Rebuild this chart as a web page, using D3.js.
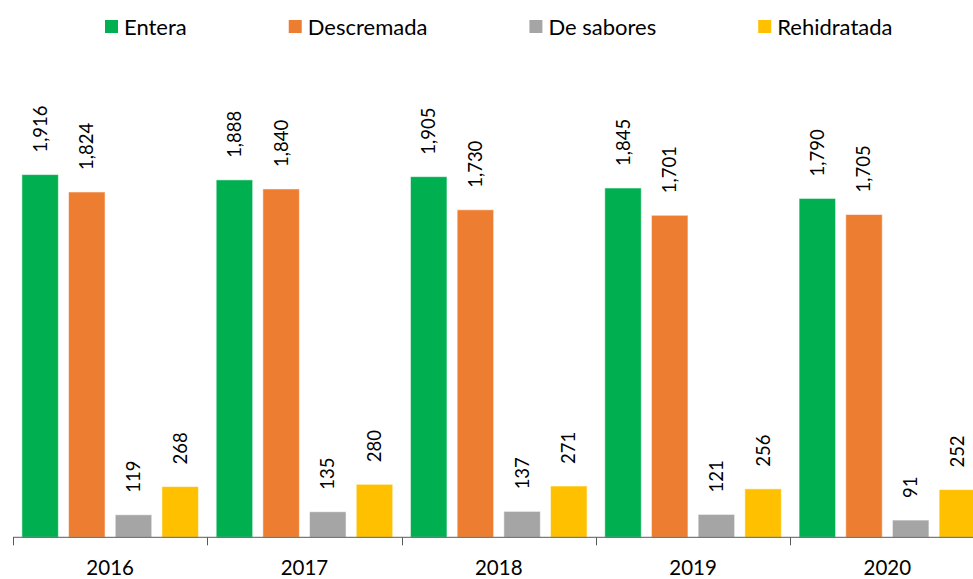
<!DOCTYPE html>
<meta charset="utf-8">
<style>
body { margin: 0; background: #fff; }
svg { display: block; font-family: Lato, "Open Sans", sans-serif; }
.value { font-size: 18.5px; fill: #000; }
.year { font-size: 20.5px; fill: #000; }
.legend text { font-size: 22px; fill: #000; }
</style>
<svg width="973" height="579"></svg>
<script src="https://d3js.org/d3.v7.min.js"></script>
<script>
var years = ["2016", "2017", "2018", "2019", "2020"];
var seriesNames = ["Entera", "Descremada", "De sabores", "Rehidratada"];
var entera = [1916, 1888, 1905, 1845, 1790];
var descremada = [1824, 1840, 1730, 1701, 1705];
var deSabores = [119, 135, 137, 121, 91];
var rehidratada = [268, 280, 271, 256, 252];
var colors = ["#00B050", "#ED7D31", "#A5A5A5", "#FFC000"];

var values = [entera, descremada, deSabores, rehidratada];

var svg = d3.select("svg"),
    margin = {top: 64, left: 13, bottom: 42},
    groupWidth = 194.3,
    baseY = 537.3;

var x0 = d3.scaleBand()
    .domain(years)
    .range([margin.left, margin.left + groupWidth * years.length])
    .padding(0);

var x1 = d3.scaleBand()
    .domain(seriesNames)
    .range([0, x0.bandwidth()])
    .paddingInner(0.218)
    .paddingOuter(0.19);

var y = d3.scaleLinear()
    .domain([0, 2500])
    .range([baseY, margin.top]);

var fmt = d3.format(",");
var color = d3.scaleOrdinal(seriesNames, colors);

// bars
var group = svg.selectAll(".year-group")
    .data(years)
  .enter().append("g")
    .attr("class", "year-group")
    .attr("transform", function(d) { return "translate(" + x0(d) + ",0)"; });

var cells = group.selectAll(".cell")
    .data(function(d, i) {
      return seriesNames.map(function(s, j) { return {series: s, value: values[j][i]}; });
    })
  .enter().append("g")
    .attr("class", "cell");

cells.append("rect")
    .attr("x", function(d) { return x1(d.series); })
    .attr("y", function(d) { return y(d.value); })
    .attr("width", x1.bandwidth())
    .attr("height", function(d) { return y(0) - y(d.value); })
    .attr("fill", function(d) { return color(d.series); })
    .attr("stroke", "rgba(255,255,255,0.55)")
    .attr("stroke-width", 1);

cells.append("text")
    .attr("class", "value")
    .attr("transform", function(d) {
      return "translate(" + (x1(d.series) + x1.bandwidth() / 2) + "," + (y(d.value) - 22) + ") rotate(-90)";
    })
    .attr("dy", "0.35em")
    .attr("text-anchor", "start")
    .text(function(d) { return fmt(d.value); });

// x axis
var axis = svg.append("g")
    .attr("class", "axis")
    .attr("transform", "translate(0," + baseY + ")");

axis.append("line")
    .attr("x1", x0.range()[0])
    .attr("x2", x0.range()[1])
    .attr("stroke", "#595959")
    .attr("stroke-width", 1);

axis.selectAll(".tick")
    .data(years)
  .enter().append("line")
    .attr("class", "tick")
    .attr("x1", function(d) { return Math.round(x0(d)) + 0.5; })
    .attr("x2", function(d) { return Math.round(x0(d)) + 0.5; })
    .attr("y1", 0)
    .attr("y2", 8)
    .attr("stroke", "#595959")
    .attr("stroke-width", 1);

axis.selectAll(".year")
    .data(years)
  .enter().append("text")
    .attr("class", "year")
    .attr("x", function(d) { return x0(d) + x0.bandwidth() / 2; })
    .attr("y", 38)
    .attr("text-anchor", "middle")
    .text(function(d) { return d; });

// legend
var legend = svg.append("g").attr("class", "legend");
var lx = 105;
seriesNames.forEach(function(s) {
  var item = legend.append("g").attr("transform", "translate(" + lx + ",20)");
  item.append("rect")
      .attr("width", 13)
      .attr("height", 13)
      .attr("fill", color(s));
  var t = item.append("text")
      .attr("x", 19)
      .attr("y", 7)
      .attr("dy", "0.35em")
      .text(s);
  lx += 19 + t.node().getComputedTextLength() + 102;
});
</script>
